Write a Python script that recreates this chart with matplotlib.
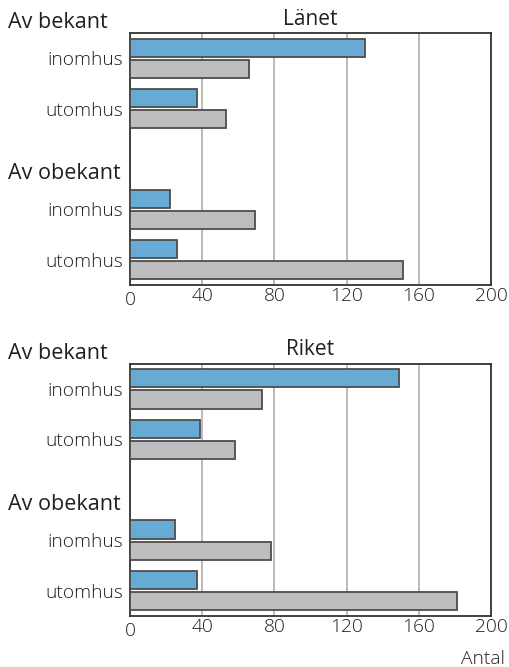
import matplotlib
matplotlib.use("Agg")
from matplotlib import pyplot as plt
from matplotlib import transforms
import numpy as np

plt.rcParams['font.family'] = ['Open Sans', 'DejaVu Sans']

# data (Antal)
groups = ['Av bekant', 'Av obekant']
places = ['inomhus', 'utomhus', 'inomhus', 'utomhus']
lanet_blue = [130, 37, 22, 26]
lanet_gray = [66, 53, 69, 151]
riket_blue = [149, 39, 25, 37]
riket_gray = [73, 58, 78, 181]
xticks = [0, 40, 80, 120, 160, 200]

blue = '#67abd5'
gray = '#bcbec0'
edge = '#4d4d4d'
txt = '#231f20'

ypos = np.array([0, 1, 3, 4])

fig = plt.figure(figsize=(5.1, 6.67), dpi=100)

def panel(rect, title, vals_b, vals_g):
    ax = fig.add_axes(rect)
    ax.barh(ypos - 0.21, vals_b, height=0.36, color=blue, edgecolor=edge, linewidth=1.3, zorder=3)
    ax.barh(ypos + 0.21, vals_g, height=0.36, color=gray, edgecolor=edge, linewidth=1.3, zorder=3)
    ax.set_xlim(0, 200)
    ax.set_ylim(4.5, -0.5)
    ax.set_xticks(xticks)
    ax.set_yticks(ypos)
    ax.set_yticklabels(places)
    ax.tick_params(length=0, labelsize=13.8, colors=txt)
    ax.tick_params(axis='x', pad=1.5)
    ax.tick_params(axis='y', pad=5)
    for lab in ax.get_xticklabels() + ax.get_yticklabels():
        lab.set_fontweight('light')
    ax.grid(axis='x', color='#a8a8a8', linewidth=1.1, zorder=0)
    for s in ax.spines.values():
        s.set_color('#333333')
        s.set_linewidth(1.3)
    ax.set_title(title, fontsize=15, color=txt, pad=6)
    tr = transforms.blended_transform_factory(fig.transFigure, ax.transData)
    for g, y in zip(groups, [-0.6, 2.4]):
        ax.text(0.016, y, g, transform=tr, fontsize=15.5, color=txt, va='baseline', ha='left', clip_on=False)
    # the zero label sits a little lower in the original
    lab0 = ax.get_xticklabels()[0]
    lab0.set_transform(lab0.get_transform() + transforms.ScaledTranslation(0, -3 / 72, fig.dpi_scale_trans))
    return ax

panel([130 / 510, 1 - 285 / 667, 361 / 510, 252 / 667], 'Länet', lanet_blue, lanet_gray)
panel([130 / 510, 1 - 615.7 / 667, 361 / 510, 252 / 667], 'Riket', riket_blue, riket_gray)

fig.text(505 / 510, 1 - 659 / 667, 'Antal', fontsize=13.8, fontweight='light', color=txt, ha='right', va='center')

fig.savefig('out.png', dpi=100)
